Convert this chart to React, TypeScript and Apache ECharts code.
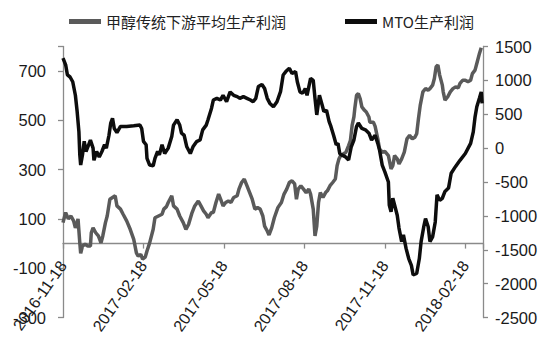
import React, { useEffect, useRef } from "react";
import * as echarts from "echarts";

// x values are days counted from 2016-11-18
const xTickLabels = ["2016-11-18", "2017-02-18", "2017-05-18", "2017-08-18", "2017-11-18", "2018-02-18"];

const methanolName = "甲醇传统下游平均生产利润";
const mtoName = "MTO生产利润";

const methanolDays = [0, 3, 6, 9, 12, 14, 16, 17, 19, 20, 22, 25, 28, 31, 32, 34, 37, 40, 43, 45, 48, 50, 53, 56, 59, 61, 65, 68, 72, 76, 80, 83, 85, 88, 90, 93, 95, 98, 102, 104, 108, 112, 114, 117, 119, 123, 125, 129, 132, 136, 139, 142, 146, 149, 153, 156, 159, 162, 164, 168, 170, 173, 176, 179, 181, 184, 187, 190, 193, 197, 199, 202, 205, 208, 211, 214, 217, 220, 223, 226, 228, 231, 233, 236, 239, 243, 247, 250, 253, 256, 259, 262, 264, 266, 269, 272, 275, 278, 280, 283, 285, 287, 289, 291, 294, 297, 299, 302, 305, 308, 310, 312, 314, 317, 320, 323, 325, 327, 329, 330, 332, 334, 336, 338, 341, 343, 346, 347, 351, 353, 356, 358, 361, 364, 368, 371, 373, 375, 378, 380, 383, 386, 389, 392, 395, 398, 400, 402, 404, 407, 410, 413, 415, 418, 420, 422, 424, 426, 429, 430, 432, 435, 438, 441, 444, 447, 449, 452, 455, 458, 461, 463, 466, 468, 471, 473];
const methanolProfit = [85, 126, 100, 112, 92, 64, 85, 100, 3, -40, -10, -3, -10, -10, 44, 64, 44, 31, 3, 31, 85, 112, 180, 187, 194, 153, 140, 119, 92, 58, 17, -38, -51, -44, -63, -55, -30, 3, 58, 105, 112, 119, 140, 150, 167, 194, 153, 140, 112, 85, 58, 78, 126, 153, 173, 153, 133, 119, 105, 126, 126, 167, 201, 173, 153, 167, 173, 167, 187, 194, 221, 248, 262, 235, 208, 180, 140, 146, 140, 112, 71, 51, 35, 64, 105, 146, 167, 201, 221, 248, 255, 242, 180, 221, 235, 221, 207, 221, 201, 140, 31, 71, 167, 207, 187, 207, 214, 235, 248, 262, 316, 343, 357, 364, 371, 398, 418, 480, 514, 548, 602, 609, 589, 555, 541, 534, 514, 493, 493, 476, 425, 384, 371, 374, 357, 303, 316, 357, 344, 323, 344, 371, 425, 439, 425, 432, 446, 507, 561, 616, 629, 623, 629, 643, 670, 718, 725, 684, 643, 616, 582, 595, 616, 629, 636, 632, 650, 663, 663, 657, 663, 690, 704, 731, 772, 795];

const mtoDays = [0, 3, 5, 8, 11, 14, 16, 18, 19, 20, 22, 24, 26, 29, 31, 34, 35, 38, 41, 44, 47, 49, 52, 54, 56, 58, 61, 65, 72, 80, 87, 89, 91, 94, 95, 98, 102, 104, 107, 109, 112, 115, 119, 123, 125, 129, 132, 134, 137, 140, 144, 147, 151, 155, 158, 162, 164, 168, 170, 174, 178, 181, 185, 189, 193, 197, 200, 204, 208, 212, 215, 218, 221, 225, 228, 231, 234, 238, 242, 246, 249, 252, 256, 259, 263, 265, 268, 271, 274, 276, 280, 283, 285, 287, 290, 293, 295, 298, 301, 303, 306, 309, 311, 313, 315, 319, 323, 326, 329, 332, 334, 338, 342, 346, 349, 353, 356, 358, 361, 364, 368, 369, 371, 373, 375, 378, 380, 383, 385, 388, 391, 394, 396, 400, 403, 405, 408, 410, 413, 415, 418, 421, 423, 426, 429, 432, 436, 439, 444, 449, 455, 461, 464, 466, 468, 471, 473, 474];
const mtoProfit = [1330, 1230, 1080, 1050, 980, 780, 540, 240, -100, -250, -100, 100, -50, 50, 120, 0, -180, -50, -130, -50, 50, 0, 190, 370, 440, 290, 230, 320, 320, 330, 340, 290, 100, 50, -150, -250, -260, -150, -50, -100, 50, -80, 0, 170, 340, 420, 340, 220, 190, 20, -80, 20, 95, 120, 270, 340, 420, 590, 710, 735, 710, 780, 685, 830, 780, 760, 735, 760, 735, 710, 685, 735, 910, 940, 880, 735, 660, 610, 685, 833, 1080, 1130, 1180, 1100, 1130, 980, 830, 810, 880, 780, 1030, 1000, 735, 490, 780, 640, 540, 560, 390, 320, 190, 50, 70, -80, -100, -125, -175, 20, 120, 320, 370, 290, 270, 220, 120, 190, 70, -30, -250, -350, -500, -840, -940, -740, -840, -990, -1180, -1380, -1280, -1480, -1630, -1730, -1870, -1850, -1630, -1380, -1160, -1040, -1160, -1380, -1310, -1090, -690, -770, -740, -640, -590, -370, -270, -180, -80, 70, 240, 460, 610, 740, 830, 660];

const AXIS_FONT = "'Liberation Sans Narrow', 'Arial Narrow', 'Liberation Sans', sans-serif";
const CJK_FONT = "'Noto Sans CJK SC', 'Noto Sans', sans-serif";
const AXIS_COLOR = "#8a8a8a";
const GRAY = "#5a5a5a";
const BLACK = "#0d0d0d";

export default function App() {
  const ref = useRef<HTMLDivElement>(null);

  useEffect(() => {
    if (!ref.current) return;
    const chart = echarts.init(ref.current, undefined, { renderer: "svg" });
    const methanolData = methanolDays.map((d, i) => [d, methanolProfit[i]]);
    const mtoData = mtoDays.map((d, i) => [d, mtoProfit[i]]);
    const STEP = 91;
    chart.setOption({
      animation: false,
      backgroundColor: "#ffffff",
      legend: [
        {
          data: [methanolName],
          left: 64,
          top: 9,
          icon: "rect",
          itemWidth: 32,
          itemHeight: 5,
          textStyle: { fontFamily: CJK_FONT, fontSize: 15, color: "#222" },
        },
        {
          data: [mtoName],
          left: 340,
          top: 9,
          icon: "rect",
          itemWidth: 32,
          itemHeight: 5,
          textStyle: { fontFamily: CJK_FONT, fontSize: 15, color: "#222" },
        },
      ],
      grid: { left: 63, right: 56, top: 46.5, bottom: 38.5, containLabel: false, outerBoundsMode: "none" },
      xAxis: {
        type: "value",
        min: 0,
        max: 475,
        interval: STEP,
        axisLine: { show: true, onZero: true, onZeroAxisIndex: 0, lineStyle: { color: AXIS_COLOR, width: 1.3 } },
        axisTick: { show: true, length: 5, lineStyle: { color: AXIS_COLOR, width: 1.3 } },
        axisLabel: {
          rotate: 55,
          margin: -55,
          fontSize: 16,
          fontFamily: AXIS_FONT,
          color: "#1a1a1a",
          hideOverlap: false,
          formatter: (v: number) => {
            const i = Math.round(v / STEP);
            return Math.abs(v - i * STEP) < 0.01 && xTickLabels[i] ? xTickLabels[i] : "";
          },
        },
        splitLine: { show: false },
      },
      yAxis: [
        {
          type: "value",
          position: "left",
          min: -300,
          max: 800,
          interval: 200,
          axisLine: { show: true, onZero: false, lineStyle: { color: AXIS_COLOR, width: 1.3 } },
          axisTick: { show: true, length: 5, lineStyle: { color: AXIS_COLOR, width: 1.3 } },
          axisLabel: {
            margin: 17,
            fontSize: 16.5,
            fontFamily: AXIS_FONT,
            color: "#1a1a1a",
            formatter: (v: number) => (v >= 800 ? "" : String(v)),
          },
          splitLine: { show: false },
        },
        {
          type: "value",
          position: "right",
          min: -2500,
          max: 1500,
          interval: 500,
          axisLine: { show: true, onZero: false, lineStyle: { color: AXIS_COLOR, width: 1.3 } },
          axisTick: { show: true, length: 5, lineStyle: { color: AXIS_COLOR, width: 1.3 } },
          axisLabel: {
            margin: 12,
            fontSize: 16.5,
            fontFamily: AXIS_FONT,
            color: "#1a1a1a",
            formatter: (v: number) => String(v),
          },
          splitLine: { show: false },
        },
      ],
      series: [
        {
          name: methanolName,
          type: "line",
          yAxisIndex: 0,
          data: methanolData,
          showSymbol: false,
          symbol: "none",
          lineStyle: { color: GRAY, width: 3.5 },
          itemStyle: { color: GRAY },
          z: 2,
        },
        {
          name: mtoName,
          type: "line",
          yAxisIndex: 1,
          data: mtoData,
          showSymbol: false,
          symbol: "none",
          lineStyle: { color: BLACK, width: 3.5 },
          itemStyle: { color: BLACK },
          z: 3,
        },
      ],
    });
    return () => chart.dispose();
  }, []);

  return (
    <div
      ref={ref}
      style={{ position: "fixed", left: 0, top: 0, width: 539, height: 356, background: "#fff" }}
    />
  );
}
